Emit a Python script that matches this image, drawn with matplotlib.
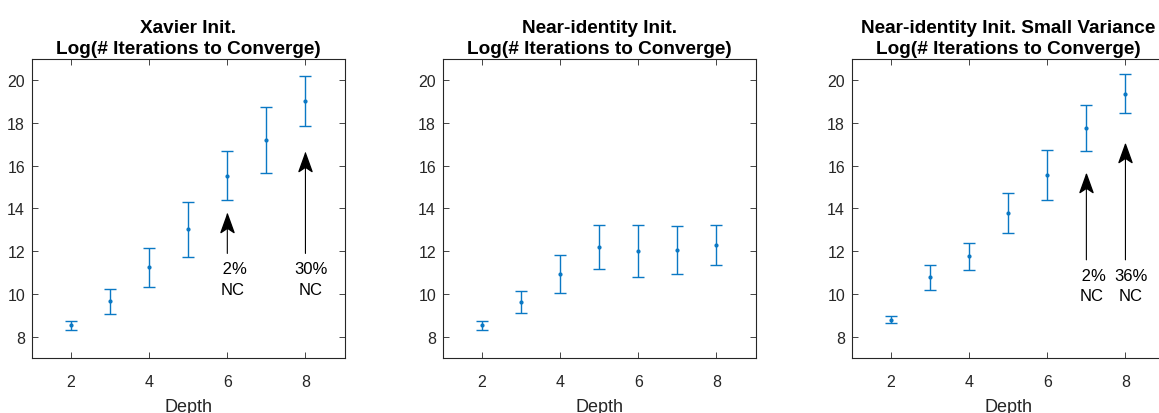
import numpy as np
import matplotlib.pyplot as plt
from matplotlib.path import Path

plt.rcParams['font.family'] = ['Liberation Sans', 'DejaVu Sans']

depth = [2, 3, 4, 5, 6, 7, 8]

# Xavier init
xav_mean = [8.56, 9.67, 11.26, 13.03, 15.54, 17.22, 19.00]
xav_lo = [8.31, 9.09, 10.34, 11.74, 14.39, 15.66, 17.83]
xav_hi = [8.76, 10.26, 12.17, 14.32, 16.69, 18.76, 20.19]

# near-identity init
nid_mean = [8.56, 9.62, 10.96, 12.22, 12.03, 12.06, 12.31]
nid_lo = [8.32, 9.10, 10.07, 11.16, 10.80, 10.94, 11.38]
nid_hi = [8.76, 10.13, 11.85, 13.25, 13.25, 13.19, 13.25]

# near-identity init, small variance
nsv_mean = [8.81, 10.79, 11.77, 13.79, 15.57, 17.77, 19.36]
nsv_lo = [8.64, 10.18, 11.14, 12.86, 14.40, 16.67, 18.45]
nsv_hi = [8.98, 11.38, 12.39, 14.74, 16.75, 18.85, 20.27]

titles = ['Xavier Init.\nLog(# Iterations to Converge)',
          'Near-identity Init.\nLog(# Iterations to Converge)',
          'Near-identity Init. Small Variance\nLog(# Iterations to Converge)']

# (x, arrow tail y, arrow tip y, label, label centre y)
notes = [
    [(6, 11.9, 13.75, ' 2%\nNC', 10.71), (8, 11.9, 16.6, '30%\nNC', 10.71)],
    [],
    [(7, 11.6, 15.6, ' 2%\nNC', 10.41), (8, 11.6, 17.0, '36%\nNC', 10.41)],
]

series = [(xav_mean, xav_lo, xav_hi), (nid_mean, nid_lo, nid_hi), (nsv_mean, nsv_lo, nsv_hi)]
lefts = [32, 443, 852]

# notched arrow head, tip at the origin
head = Path([(0, 0), (-0.36, -1), (0, -0.76), (0.36, -1), (0, 0)],
            [Path.MOVETO, Path.LINETO, Path.LINETO, Path.LINETO, Path.CLOSEPOLY])

fig = plt.figure(figsize=(11.59, 4.14), dpi=100)
blue = '#0a78c4'
grey = '#262626'

for i in range(3):
    ax = fig.add_axes([lefts[i] / 1159, 0.132, 312.5 / 1159, 0.724])
    m, lo, hi = [np.array(a) for a in series[i]]
    ax.errorbar(depth, m, yerr=[m - lo, hi - m], fmt='.', color=blue,
                markersize=4, elinewidth=1.0, capsize=4.2, capthick=1.0)
    ax.set_xlim(1, 9)
    ax.set_ylim(7, 21)
    ax.set_xticks([2, 4, 6, 8])
    ax.set_yticks(range(8, 21, 2))
    ax.tick_params(direction='in', top=True, right=True, labelsize=11.5,
                   colors=grey, length=4, width=0.6, pad=5)
    ax.tick_params(axis='x', pad=11)
    for s in ax.spines.values():
        s.set_color(grey)
        s.set_linewidth(0.8)
    if i == 2:
        # right edge of this panel falls outside the figure
        ax.spines['right'].set_visible(False)
        ax.tick_params(right=False)
    ax.set_xlabel('Depth', fontsize=13, color=grey, labelpad=7)
    ax.set_title(titles[i], fontsize=13.7, fontweight='bold', pad=4, linespacing=1.32)
    for x, y0, y1, lab, ty in notes[i]:
        ax.annotate('', xy=(x, y1), xytext=(x, y0),
                    arrowprops=dict(arrowstyle='-', color='black', lw=0.8,
                                    shrinkA=0, shrinkB=0))
        ax.plot(x, y1, marker=head, markersize=26, color='black', linestyle='none')
        ax.text(x + 0.13, ty, lab, ha='center', va='center', fontsize=12,
                linespacing=1.45)

fig.savefig('out.png', dpi=100)
